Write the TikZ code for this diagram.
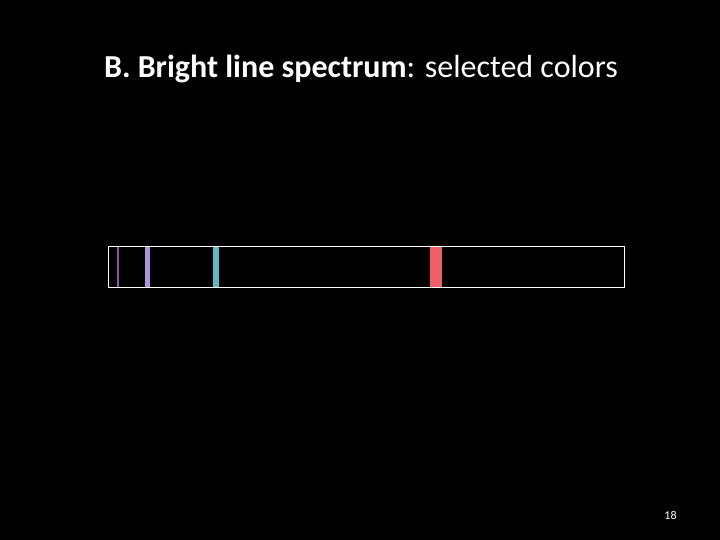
\documentclass[tikz,border=0pt]{standalone}
\usepackage{fontspec}
\setmainfont{Carlito}
\usetikzlibrary{positioning}
\definecolor{lineviolet}{RGB}{150,80,170}
\definecolor{linepurple}{RGB}{175,145,225}
\definecolor{linecyan}{RGB}{90,185,195}
\definecolor{linered}{RGB}{240,95,105}
\tikzstyle{base} = [inner sep=0pt, outer sep=0pt, text=white]
\tikzstyle{title} = [base, anchor=base, font=\fontsize{32}{38}\selectfont]
\tikzstyle{spectrumbox} = [base, rectangle, draw=white, line width=1.2pt, minimum width=516pt, minimum height=41pt, anchor=north west]
\tikzstyle{brightline} = [base, rectangle, minimum height=40pt, anchor=north west]
\tikzstyle{pagenum} = [base, anchor=base, font=\fontsize{12}{14}\selectfont]

\begin{document}
\begin{tikzpicture}[x=1pt, y=-1pt]
  \fill[black] (0,0) rectangle (720,540);
  \useasboundingbox (0,0) rectangle (720,540);
  \node (head) [title] at (361,78) {\textbf{B. Bright line spectrum}: selected colors};
  % emission lines
  \node (violet) [brightline, fill=lineviolet, minimum width=2pt] at (116.7,246.8) {};
  \node (purple) [brightline, fill=linepurple, minimum width=5pt] at (145,246.8) {};
  \node (cyan)   [brightline, fill=linecyan, minimum width=6pt] at (213.3,246.8) {};
  \node (red)    [brightline, fill=linered, minimum width=11.5pt] at (430,246.8) {};
  \node (spectrum) [spectrumbox] at (108.3,246.5) {};
  \node (page) [pagenum] at (670.5,519) {18};
\end{tikzpicture}
\end{document}
